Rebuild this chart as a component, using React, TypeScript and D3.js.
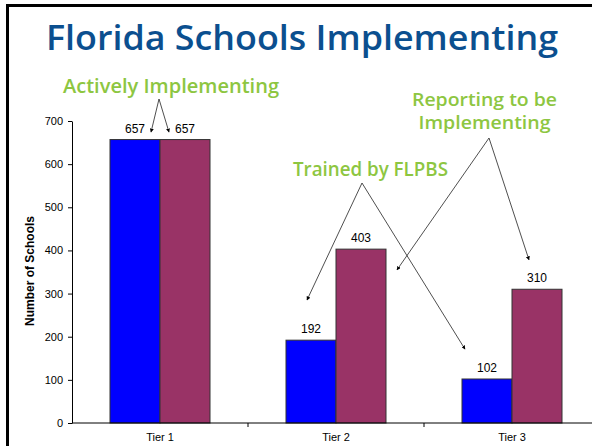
import React, { useEffect, useRef } from "react";
import * as d3 from "d3";

const tiers = ["Tier 1", "Tier 2", "Tier 3"];
const series = ["Trained by FLPBS", "Reporting to be Implementing"];
const trained = [657, 192, 102];
const reporting = [657, 403, 310];
const yTicks = [0, 100, 200, 300, 400, 500, 600, 700];
const colors = ["#0000FF", "#993366"];

// callouts: text lines with widths, apex in pixels, tips as [tier, offset inside band, value]
const callouts = [
  { lines: ["Actively Implementing"], widths: [216], size: 20, x: 171, y: 93, apex: [159, 99], tips: [["Tier 1", 79, 674], ["Tier 1", 97, 674]] },
  { lines: ["Trained by FLPBS"], widths: [155], size: 20, x: 370.5, y: 176, apex: [362, 183], tips: [["Tier 2", 59, 285], ["Tier 3", 41, 171]] },
  { lines: ["Reporting to be", "Implementing"], widths: [145, 132], size: 18, x: 484.5, y: 106, apex: [489, 138], tips: [["Tier 2", 149, 355], ["Tier 3", 105, 378]] },
];

const W = 592;
const H = 446;
const left = 72;
const base = 423;

const App = () => {
  const yAxisRef = useRef(null);

  const x = d3.scaleBand().domain(tiers).range([left, 600]).padding(0);
  const xs = d3.scaleBand().domain(series).range([38, 138]).padding(0);
  const y = d3.scaleLinear().domain([0, 700]).range([base, 121]);

  const rows = tiers.map((t, i) => ({ tier: t, values: [trained[i], reporting[i]] }));

  useEffect(() => {
    const g = d3.select(yAxisRef.current);
    g.call(d3.axisLeft(y).tickValues(yTicks).tickSize(4).tickSizeOuter(0).tickPadding(5));
    g.select(".domain").attr("stroke", "#000").attr("stroke-width", 1);
    g.selectAll(".tick line").attr("stroke", "#000");
    g.selectAll(".tick text")
      .attr("font-family", "'Liberation Sans', Arial, sans-serif")
      .attr("font-size", 11)
      .attr("fill", "#000");
  }, []);

  const green = "#8DC641";
  const font = "'Open Sans', 'DejaVu Sans', Tahoma, sans-serif";
  const arial = "'Liberation Sans', Arial, sans-serif";

  return (
    <svg width={W} height={H} style={{ position: "absolute", left: 0, top: 0, background: "#fff" }}>
      <defs>
        <marker id="ah" viewBox="0 0 10 10" refX="9" refY="5" markerWidth="5" markerHeight="5" orient="auto">
          <path d="M0,0 L10,5 L0,10 z" fill="#000" />
        </marker>
      </defs>
      <rect width={W} height={H} fill="#fff" />
      <path d={`M7.5,${H} V5.5 H${W}`} fill="none" stroke="#000" strokeWidth={3} />

      <text x={46} y={50} fontFamily={font} fontSize={34} fontWeight={600} fill="#0B4F8F" textLength={512} lengthAdjust="spacingAndGlyphs">
        Florida Schools Implementing
      </text>

      {rows.map((r) =>
        r.values.map((v, j) => (
          <rect
            key={r.tier + j}
            x={x(r.tier) + xs(series[j])}
            y={y(v)}
            width={xs.bandwidth()}
            height={base - y(v)}
            fill={colors[j]}
            stroke="#333"
            strokeWidth={1}
          />
        ))
      )}

      {rows.map((r) =>
        r.values.map((v, j) => (
          <text
            key={"l" + r.tier + j}
            x={x(r.tier) + xs(series[j]) + xs.bandwidth() / 2}
            y={y(v) - 7}
            textAnchor="middle"
            fontFamily={arial}
            fontSize={12}
            fill="#000"
          >
            {v}
          </text>
        ))
      )}

      <g ref={yAxisRef} transform={`translate(${left},0)`} />
      <line x1={left} x2={W} y1={base} y2={base} stroke="#000" />
      {tiers.slice(1).map((t) => (
        <line key={"t" + t} x1={x(t)} x2={x(t)} y1={base} y2={base + 4} stroke="#000" />
      ))}
      {tiers.map((t) => (
        <text key={"x" + t} x={x(t) + x.bandwidth() / 2} y={441} textAnchor="middle" fontFamily={arial} fontSize={11} fill="#000">
          {t}
        </text>
      ))}
      <text
        transform="translate(34,271) rotate(-90)"
        textAnchor="middle"
        fontFamily={arial}
        fontSize={12}
        fontWeight="bold"
        fill="#000"
      >
        Number of Schools
      </text>

      {callouts.map((c, i) => (
        <g key={"c" + i}>
          {c.lines.map((s, k) => (
            <text
              key={k}
              x={c.x - c.widths[k] / 2}
              y={c.y + k * 23}
              fontFamily={font}
              fontSize={c.size}
              fontWeight={600}
              fill={green}
              textLength={c.widths[k]}
              lengthAdjust="spacingAndGlyphs"
            >
              {s}
            </text>
          ))}
          {c.tips.map((tp, k) => (
            <line
              key={"a" + k}
              x1={c.apex[0]}
              y1={c.apex[1]}
              x2={x(tp[0]) + tp[1]}
              y2={y(tp[2])}
              stroke="#222"
              strokeWidth={0.8}
              markerEnd="url(#ah)"
            />
          ))}
        </g>
      ))}
    </svg>
  );
};

export default App;
